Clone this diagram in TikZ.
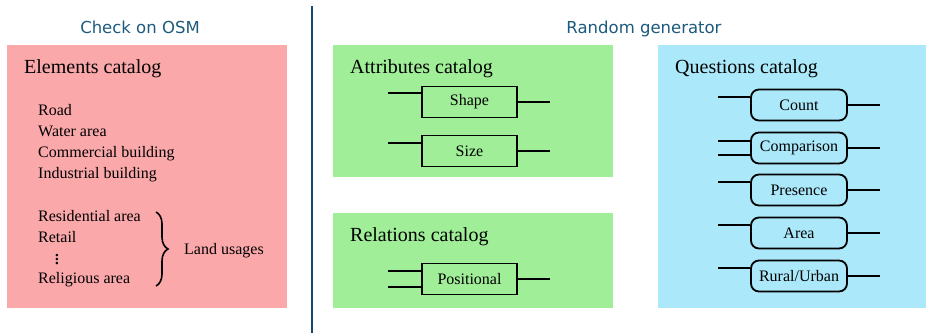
\documentclass[tikz,border=0pt]{standalone}
\usepackage{fontspec}
\setmainfont{Liberation Serif}
\newfontfamily\headfont{DejaVu Sans}
\usetikzlibrary{positioning,decorations.pathreplacing}
\definecolor{osmpink}{RGB}{250,168,170}
\definecolor{catgreen}{RGB}{160,238,152}
\definecolor{catblue}{RGB}{170,232,250}
\definecolor{headblue}{RGB}{30,90,125}
\definecolor{rulecol}{RGB}{20,72,112}
\tikzset{
  panel/.style={draw=none, inner sep=0pt, anchor=north west},
  heading/.style={font=\headfont\fontsize{16.5}{18}\selectfont, text=headblue, anchor=base, inner sep=0pt},
  cattitle/.style={font=\fontsize{20}{22}\selectfont, anchor=base west, inner sep=0pt},
  item/.style={font=\fontsize{16}{18}\selectfont, anchor=base west, inner sep=0pt},
  attrbox/.style={rectangle, draw=black, line width=1.8pt, minimum width=95pt, minimum height=31pt, inner sep=1pt, font=\fontsize{16}{18}\selectfont},
  questbox/.style={rectangle, rounded corners=8pt, draw=black, line width=1.8pt, minimum width=96pt, minimum height=31pt, inner sep=1pt, font=\fontsize{16}{18}\selectfont},
  wire/.style={line width=1.8pt}
}
\begin{document}
\begin{tikzpicture}[x=1pt,y=-1pt]
  \useasboundingbox[fill=white] (0,0) rectangle (926,333);
  % headings and separator
  \node[heading] (osmhead) at (140,33) {Check on OSM};
  \node[heading] (genhead) at (644,33) {Random generator};
  \draw[rulecol, line width=2pt] (312,6) -- (312,333);
  % panels
  \node[panel, fill=osmpink, minimum width=280pt, minimum height=263pt] (elempanel) at (7,45) {};
  \node[panel, fill=catgreen, minimum width=280pt, minimum height=132pt] (attrpanel) at (333,45) {};
  \node[panel, fill=catgreen, minimum width=280pt, minimum height=95pt] (relpanel) at (333,213) {};
  \node[panel, fill=catblue, minimum width=268pt, minimum height=263pt] (questpanel) at (658,45) {};
  % elements catalog
  \node[cattitle] (elemtitle) at (24,73) {Elements catalog};
  \node[item] (road) at (38,115) {Road};
  \node[item] (water) at (38,136) {Water area};
  \node[item] (commercial) at (38,157) {Commercial building};
  \node[item] (industrial) at (38,178) {Industrial building};
  \node[item] (residential) at (38,221) {Residential area};
  \node[item] (retail) at (38,242) {Retail};
  \node[font=\fontsize{21}{22}\selectfont, inner sep=0pt] (moredots) at (57,257) {$\vdots$};
  \node[item] (religious) at (38,283) {Religious area};
  \coordinate (bracetop) at (156,212);
  \coordinate (bracebot) at (156,286);
  \draw[line width=1.6pt, decoration={brace, amplitude=12pt}, decorate] (bracetop) -- (bracebot);
  \node[item] (landuse) at (184,254) {Land usages};
  % attributes catalog
  \node[cattitle] (attrtitle) at (350,73) {Attributes catalog};
  \node[attrbox] (shape) at (469.5,102) {Shape};
  \node[attrbox] (size) at (469.5,151) {Size};
  \draw[wire] ([yshift=9pt]shape.west) -- ++(-33,0);
  \draw[wire] (shape.east) -- ++(32,0);
  \draw[wire] ([yshift=8pt]size.west) -- ++(-33,0);
  \draw[wire] (size.east) -- ++(32,0);
  % relations catalog
  \node[cattitle] (reltitle) at (350,241) {Relations catalog};
  \node[attrbox] (positional) at (469.5,279) {Positional};
  \draw[wire] ([yshift=8pt]positional.west) -- ++(-33,0);
  \draw[wire] ([yshift=-8pt]positional.west) -- ++(-33,0);
  \draw[wire] (positional.east) -- ++(32,0);
  % questions catalog
  \node[cattitle] (questtitle) at (675,73) {Questions catalog};
  \node[questbox] (count) at (799,105) {Count};
  \node[questbox] (comparison) at (799,148) {Comparison};
  \node[questbox] (presence) at (799,190) {Presence};
  \node[questbox] (area) at (799,233) {Area};
  \node[questbox] (rural) at (799,276) {Rural/Urban};
  \draw[wire] ([yshift=8pt]count.west) -- ++(-32,0);
  \draw[wire] (count.east) -- ++(32,0);
  \draw[wire] ([yshift=7pt]comparison.west) -- ++(-32,0);
  \draw[wire] ([yshift=-7pt]comparison.west) -- ++(-32,0);
  \draw[wire] (comparison.east) -- ++(32,0);
  \draw[wire] ([yshift=8pt]presence.west) -- ++(-32,0);
  \draw[wire] (presence.east) -- ++(32,0);
  \draw[wire] ([yshift=8pt]area.west) -- ++(-32,0);
  \draw[wire] (area.east) -- ++(32,0);
  \draw[wire] ([yshift=8pt]rural.west) -- ++(-32,0);
  \draw[wire] (rural.east) -- ++(32,0);
\end{tikzpicture}
\end{document}
